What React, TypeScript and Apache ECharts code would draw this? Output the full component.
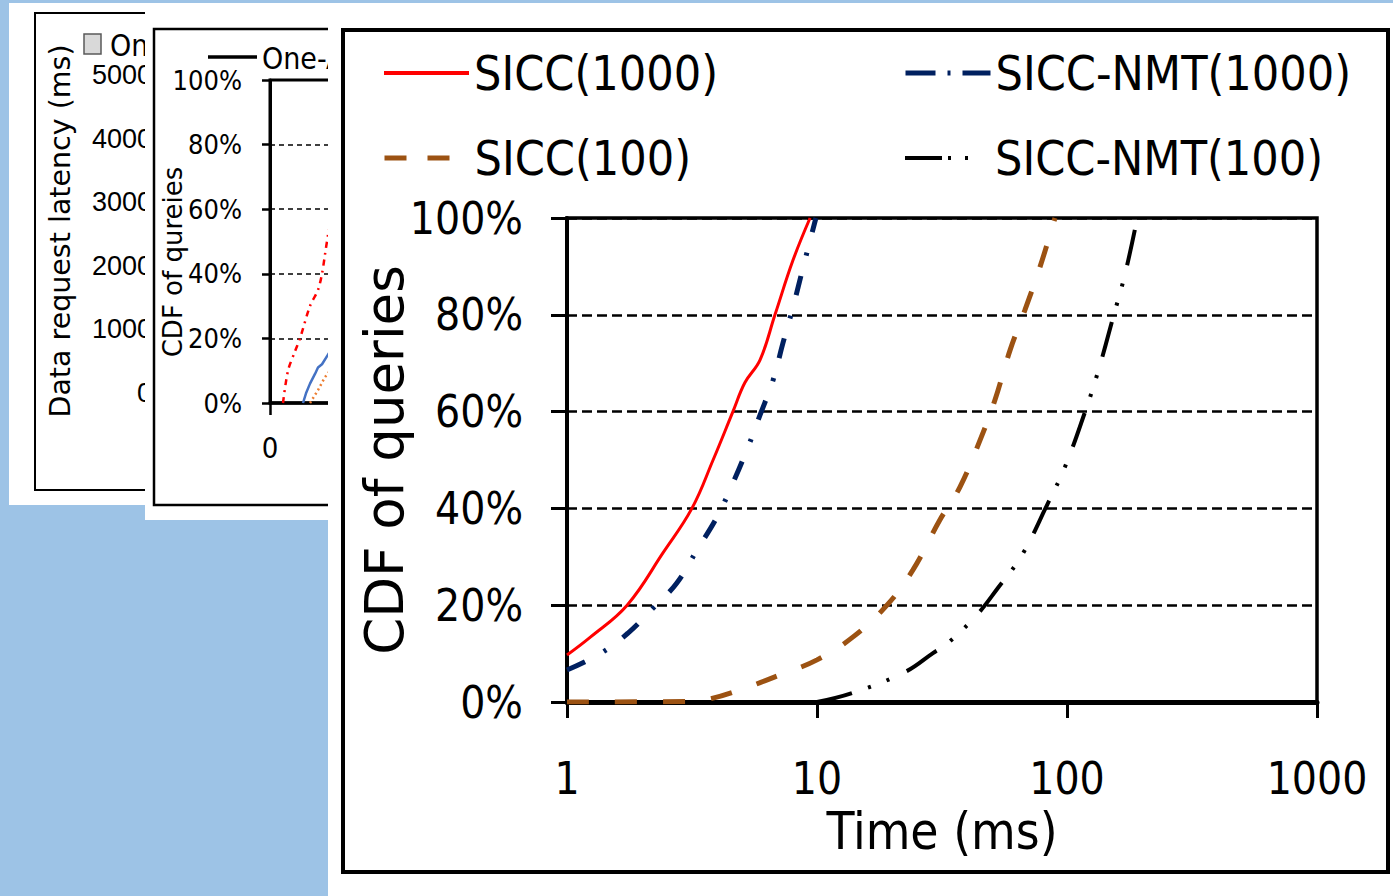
import React, { useEffect, useRef } from "react";
import * as echarts from "echarts";

// ---- main chart data: [time (ms), CDF %] ----
const sicc1000 = [[1, 9.7], [1.24, 13.4], [1.74, 20], [2.42, 30.8], [3.16, 40], [3.84, 50], [4.61, 60], [5.15, 66], [5.92, 70.7], [6.79, 80], [8.02, 91.3], [9.38, 100]];
const nmt1000 = [[1, 6.6], [1.36, 10], [1.75, 14.2], [2.21, 19.4], [2.75, 24.6], [3.31, 31.4], [3.98, 38.2], [4.57, 44.8], [5.3, 52.7], [5.92, 59.3], [6.67, 66.5], [7.31, 74.2], [8.02, 81.6], [8.79, 89.7], [9.9, 100]];
const sicc100 = [[1, 0], [3, 0.1], [3.63, 0.5], [4.92, 2.5], [7.11, 5.6], [10, 8.7], [13.9, 13.4], [19.05, 20], [24.2, 27.3], [31, 37.6], [37.3, 44.4], [44.9, 54.1], [51.5, 62.4], [59.2, 72.7], [67.9, 81], [78, 89.9], [89.5, 100]];
const nmt100 = [[10, 0], [13.9, 1.9], [22.5, 6.2], [29.1, 10.1], [33.4, 12.2], [43.6, 18], [53, 23.6], [66.1, 30.4], [83.2, 40.7], [98.2, 48.6], [118, 59.9], [133, 68.2], [153, 79.5], [171, 88.6], [191, 100]];
const seriesNames = ["SICC(1000)", "SICC-NMT(1000)", "SICC(100)", "SICC-NMT(100)"];
const xTicksMain = [1, 10, 100, 1000];

// ---- background chart (partly hidden) data ----
const bgRed = [[3.25, 0], [4.5, 10], [6.25, 16], [7.5, 20], [10, 30], [12, 35], [13, 40], [13.75, 46], [14.5, 52], [15, 55]];
const bgBlue = [[8.25, 0], [9, 3], [10, 6], [11.25, 9], [12, 11], [13, 12], [14.5, 15], [15.5, 17]];
const bgOrange = [[10, 0], [12, 4], [13.75, 8], [15, 10]];
const bgLatencyMax = 5000;

const NARROW = '"DejaVu Sans Condensed", "Liberation Sans", sans-serif';
const WIDE = '"DejaVu Sans", sans-serif';
const plain = (v: number) => String(v);

export default function App() {
  const ref = useRef<HTMLDivElement>(null);
  useEffect(() => {
    document.body.style.margin = "0";
    const chart = echarts.init(ref.current!, null, { renderer: "svg" });
    const legendText = { fontFamily: NARROW, fontSize: 48, color: "#000" };
    const hideSymbol = { opacity: 0, color: "rgba(0,0,0,0)", borderWidth: 0 };
    const mkLegend = (name: string, left: number, top: number, ls: any) => ({
      left, top, padding: 0, itemWidth: 85, itemHeight: 14, itemGap: 0, selectedMode: false, z: 20,
      textStyle: legendText,
      data: [{ name, lineStyle: ls, itemStyle: hideSymbol }],
    });
    chart.setOption({
      animation: false,
      backgroundColor: "#9DC3E6",
      graphic: {
        elements: [
          { type: "rect", z: 0, shape: { x: 9, y: 3, width: 500, height: 502 }, style: { fill: "#fff" } },
          { type: "rect", z: 0, shape: { x: 35, y: 13, width: 400, height: 477 }, style: { fill: "none", stroke: "#000", lineWidth: 2 } },
          { type: "rect", z: 1, shape: { x: 84, y: 34, width: 17, height: 20 }, style: { fill: "#D9D9D9", stroke: "#595959", lineWidth: 1.5 } },
          { type: "text", z: 1, x: 110, y: 45, style: { text: "One-A", fontSize: 30, fontFamily: NARROW, fill: "#000", align: "left", verticalAlign: "middle", textAlign: "left", textVerticalAlign: "middle" } },
          { type: "text", z: 1, x: 60, y: 231, rotation: Math.PI / 2, style: { text: "Data request latency (ms)", fontSize: 28.5, fontFamily: WIDE, fill: "#000", align: "center", verticalAlign: "middle", textAlign: "center", textVerticalAlign: "middle" } },
          { type: "rect", z: 2, shape: { x: 145, y: 3, width: 400, height: 517 }, style: { fill: "#fff" } },
          { type: "rect", z: 2, shape: { x: 154, y: 29, width: 400, height: 476 }, style: { fill: "none", stroke: "#000", lineWidth: 2.5 } },
          { type: "line", z: 3, shape: { x1: 208, y1: 57, x2: 257, y2: 57 }, style: { stroke: "#000", lineWidth: 3.5 } },
          { type: "text", z: 3, x: 262, y: 58, style: { text: "One-A", fontSize: 30, fontFamily: NARROW, fill: "#000", align: "left", verticalAlign: "middle", textAlign: "left", textVerticalAlign: "middle" } },
          { type: "text", z: 3, x: 173, y: 262, rotation: Math.PI / 2, style: { text: "CDF of qureies", fontSize: 26, fontFamily: WIDE, fill: "#000", align: "center", verticalAlign: "middle", textAlign: "center", textVerticalAlign: "middle" } },
          { type: "rect", z: 5, shape: { x: 328, y: 3, width: 1065, height: 893 }, style: { fill: "#fff" } },
          { type: "rect", z: 5, shape: { x: 343, y: 30, width: 1045, height: 842 }, style: { fill: "none", stroke: "#000", lineWidth: 4 } },
        ],
      },
      legend: [
        mkLegend(seriesNames[0], 382, 49, { color: "#FF0000", width: 4, type: "solid" }),
        mkLegend(seriesNames[1], 903, 49, { color: "#002060", width: 5, type: [30, 12, 3, 12, 40] }),
        mkLegend(seriesNames[2], 382, 134, { color: "#9C5212", width: 5, type: [22, 21] }),
        mkLegend(seriesNames[3], 903, 134, { color: "#000", width: 4, type: [37, 6, 3, 14, 3, 60] }),
      ],
      grid: [
        { left: 160, top: 75, width: 300, height: 318, z: 1 },
        { left: 270, top: 80, width: 400, height: 323, show: true, borderColor: "#000", borderWidth: 3, backgroundColor: "transparent", z: 3 },
        { left: 567, top: 218, width: 750, height: 484, show: true, borderColor: "#000", borderWidth: 3.5, backgroundColor: "transparent", z: 6 },
      ],
      xAxis: [
        { gridIndex: 0, type: "value", show: false, min: 0, max: 1 },
        {
          gridIndex: 1, type: "value", min: 0, max: 100, interval: 100, z: 3,
          axisLine: { lineStyle: { color: "#000", width: 3.5 } },
          axisTick: { length: 12, lineStyle: { color: "#000", width: 2.5 } },
          axisLabel: { showMaxLabel: false, fontFamily: NARROW, fontSize: 29, color: "#000", margin: 30 },
          splitLine: { show: false },
        },
        {
          gridIndex: 2, type: "log", logBase: 10, min: xTicksMain[0], max: xTicksMain[xTicksMain.length - 1], z: 8,
          name: "Time (ms)", nameLocation: "middle", nameGap: 104, nameMoveOverlap: false,
          nameTextStyle: { fontFamily: NARROW, fontSize: 51, color: "#000" },
          axisLine: { lineStyle: { color: "#000", width: 5 } },
          axisTick: { length: 16, lineStyle: { color: "#000", width: 3 } },
          minorTick: { show: false },
          axisLabel: { formatter: plain, fontFamily: NARROW, fontSize: 44, color: "#000", margin: 54 },
          splitLine: { show: false },
        },
      ],
      yAxis: [
        {
          gridIndex: 0, type: "value", min: 0, max: bgLatencyMax, interval: 1000, z: 1,
          axisLine: { show: true, lineStyle: { color: "#000", width: 2 } },
          axisTick: { show: false },
          axisLabel: { formatter: plain, fontFamily: '"Liberation Sans", sans-serif', fontSize: 27, color: "#000", margin: 8 },
          splitLine: { show: false },
        },
        {
          gridIndex: 1, type: "value", min: 0, max: 100, interval: 20, z: 3,
          axisLine: { show: true, lineStyle: { color: "#000", width: 3 } },
          axisTick: { show: true, length: 8, lineStyle: { color: "#000", width: 2.5 } },
          axisLabel: { formatter: "{value}%", fontFamily: NARROW, fontSize: 27, color: "#000", margin: 28 },
          splitLine: { show: true, lineStyle: { color: "#000", width: 1.5, type: [5, 4] } },
        },
        {
          gridIndex: 2, type: "value", min: 0, max: 100, interval: 20, z: 8,
          name: "CDF of queries", nameLocation: "middle", nameGap: 156, nameRotate: 90, nameMoveOverlap: false,
          nameTextStyle: { fontFamily: WIDE, fontSize: 53, color: "#000" },
          axisLine: { show: true, lineStyle: { color: "#000", width: 4 } },
          axisTick: { show: true, length: 16, lineStyle: { color: "#000", width: 3 } },
          axisLabel: { formatter: "{value}%", fontFamily: NARROW, fontSize: 44, color: "#000", margin: 44 },
          splitLine: { show: true, lineStyle: { color: "#000", width: 2.5, type: [10, 5] } },
        },
      ],
      series: [
        { type: "line", name: "bg-red", xAxisIndex: 1, yAxisIndex: 1, z: 4, data: bgRed, symbol: "none", smooth: 0.3, lineStyle: { color: "#FF0000", width: 2.5, type: [6, 5, 2, 5] } },
        { type: "line", name: "bg-blue", xAxisIndex: 1, yAxisIndex: 1, z: 4, data: bgBlue, symbol: "none", lineStyle: { color: "#4472C4", width: 2.5 } },
        { type: "line", name: "bg-orange", xAxisIndex: 1, yAxisIndex: 1, z: 4, data: bgOrange, symbol: "none", lineStyle: { color: "#ED7D31", width: 2.5, type: [2, 3] } },
        { type: "line", name: seriesNames[0], xAxisIndex: 2, yAxisIndex: 2, z: 10, data: sicc1000, symbol: "none", smooth: 0.4, itemStyle: { color: "#FF0000" }, lineStyle: { color: "#FF0000", width: 3 } },
        { type: "line", name: seriesNames[1], xAxisIndex: 2, yAxisIndex: 2, z: 10, data: nmt1000, symbol: "none", smooth: 0.4, itemStyle: { color: "#002060" }, lineStyle: { color: "#002060", width: 5, type: [20, 21, 3, 21] } },
        { type: "line", name: seriesNames[2], xAxisIndex: 2, yAxisIndex: 2, z: 10, data: sicc100, symbol: "none", smooth: 0.4, itemStyle: { color: "#9C5212" }, lineStyle: { color: "#9C5212", width: 5, type: [22, 26] } },
        { type: "line", name: seriesNames[3], xAxisIndex: 2, yAxisIndex: 2, z: 10, data: nmt100, symbol: "none", smooth: 0.4, itemStyle: { color: "#000" }, lineStyle: { color: "#000", width: 4, type: [36, 17, 3, 17, 3, 19] } },
      ],
    });
    return () => chart.dispose();
  }, []);
  return <div ref={ref} style={{ width: 1393, height: 896 }} />;
}
